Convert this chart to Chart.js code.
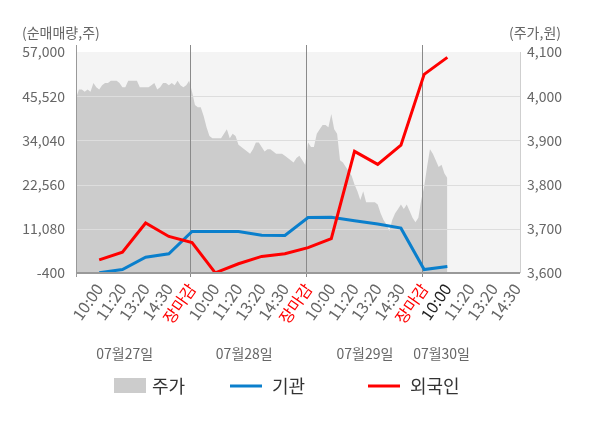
<!DOCTYPE html>
<html>
<head>
<meta charset="utf-8">
<script src="https://cdn.jsdelivr.net/npm/chart.js@4.4.1/dist/chart.umd.min.js"></script>
<style>
  html, body { margin: 0; padding: 0; background: #fff; }
</style>
</head>
<body>
<canvas id="c" width="600" height="428"></canvas>
<script>
// categories
const sessions = ['10:00', '11:20', '13:20', '14:30', '장마감'];
const dates = ['07월27일', '07월28일', '07월29일', '07월30일'];
const datePos = [2.1, 7.25, 12.45, 15.75];
const legendLabels = ['주가', '기관', '외국인'];

// net buying (shares), one value per session point
const foreign = [3000, 5000, 12600, 9100, 7500, -350, 2000, 3900, 4600, 6200, 8500, 31200, 27800, 32800, 51200, 55600];
const institution = [-300, 500, 3700, 4600, 10400, 10400, 10350, 9400, 9350, 14000, 14050, 13150, 12350, 11250, 500, 1300];

// intraday price (won), 40 samples per full day
const priceDay1 = [3995, 4015, 4015, 4010, 4015, 4010, 4030, 4020, 4015, 4025, 4030, 4030, 4035, 4035, 4035, 4030, 4020, 4020, 4035, 4035,
                   4035, 4035, 4020, 4020, 4020, 4020, 4025, 4030, 4015, 4020, 4030, 4030, 4025, 4030, 4025, 4035, 4025, 4020, 4025, 4035];
const priceDay2 = [4010, 3980, 3975, 3975, 3955, 3930, 3910, 3905, 3905, 3905, 3905, 3915, 3925, 3905, 3915, 3910, 3890, 3885, 3880, 3875,
                   3870, 3880, 3895, 3895, 3885, 3875, 3880, 3880, 3875, 3870, 3870, 3870, 3865, 3860, 3855, 3850, 3860, 3865, 3855, 3845];
const priceDay3 = [3895, 3885, 3885, 3915, 3925, 3935, 3935, 3930, 3960, 3925, 3915, 3855, 3850, 3840, 3830, 3820, 3800, 3785, 3765, 3785,
                   3760, 3760, 3760, 3760, 3755, 3735, 3720, 3710, 3695, 3720, 3735, 3745, 3755, 3745, 3755, 3740, 3725, 3715, 3725, 3765];
const priceDay4 = [3795, 3840, 3880, 3870, 3855, 3840, 3845, 3825, 3815];

const leftTicks = [-400, 11080, 22560, 34040, 45520, 57000];
const rightTicks = [3600, 3700, 3800, 3900, 4000, 4100];

const FONT = "'Noto Sans CJK KR', 'Noto Sans', sans-serif";
const STEP = 5 / 40;
const priceDays = [priceDay1, priceDay2, priceDay3, priceDay4];
const pricePoints = priceDays.flatMap((arr, d) => arr.map((p, i) => ({ x: d * 5 + i * STEP, y: p })));
const toPoints = arr => arr.map((v, i) => ({ x: i + 1, y: v }));

const decor = {
  id: 'decor',
  beforeDraw(chart) {
    const { ctx, chartArea: a } = chart;
    ctx.save();
    ctx.fillStyle = '#f4f4f4';
    ctx.fillRect(a.left, a.top, a.right - a.left, a.bottom - a.top);
    ctx.restore();
  },
  afterDatasetDraw(chart, args) {
    if (args.index !== 0) return;
    const { ctx, chartArea: a, scales } = chart;
    ctx.save();
    ctx.strokeStyle = '#dddddd';
    ctx.lineWidth = 1;
    leftTicks.slice(1, -1).forEach(v => {
      const y = Math.round(scales.y.getPixelForValue(v)) + 0.5;
      ctx.beginPath(); ctx.moveTo(a.left, y); ctx.lineTo(a.right, y); ctx.stroke();
    });
    ctx.strokeStyle = '#8a8a8a';
    [5, 10, 15].forEach(v => {
      const x = Math.round(scales.x.getPixelForValue(v)) - 1.5;
      ctx.beginPath(); ctx.moveTo(x, a.top - 7); ctx.lineTo(x, a.bottom + 4); ctx.stroke();
    });
    ctx.restore();
  },
  afterDraw(chart) {
    const { ctx, chartArea: a, scales } = chart;
    ctx.save();
    // axis lines
    ctx.strokeStyle = '#999';
    ctx.lineWidth = 1;
    ctx.beginPath(); ctx.moveTo(a.left + 0.5, a.top - 7); ctx.lineTo(a.left + 0.5, a.bottom + 4); ctx.stroke();
    ctx.strokeStyle = '#cfcfcf';
    ctx.beginPath(); ctx.moveTo(a.right + 0.5, a.top); ctx.lineTo(a.right + 0.5, a.bottom); ctx.stroke();
    ctx.strokeStyle = '#999';
    ctx.lineWidth = 2;
    ctx.beginPath(); ctx.moveTo(a.left, a.bottom); ctx.lineTo(a.right, a.bottom); ctx.stroke();

    // axis titles
    ctx.fillStyle = '#666';
    ctx.font = '14px ' + FONT;
    ctx.textBaseline = 'middle';
    ctx.textAlign = 'left';
    ctx.fillText('(순매매량,주)', 22, 33);
    ctx.fillText('(주가,원)', 509, 33);

    // dates
    ctx.textAlign = 'center';
    dates.forEach((d, i) => {
      ctx.fillText(d, scales.x.getPixelForValue(datePos[i]), 354);
    });

    // legend
    ctx.font = '18px ' + FONT;
    ctx.textAlign = 'left';
    ctx.fillStyle = '#cccccc';
    ctx.fillRect(114, 378, 32, 15);
    ctx.fillStyle = '#333';
    ctx.fillText(legendLabels[0], 152, 386);
    ctx.lineWidth = 3;
    ctx.strokeStyle = '#0a7fcc';
    ctx.beginPath(); ctx.moveTo(230, 386); ctx.lineTo(262, 386); ctx.stroke();
    ctx.fillText(legendLabels[1], 272, 386);
    ctx.strokeStyle = '#ff0000';
    ctx.beginPath(); ctx.moveTo(368, 386); ctx.lineTo(400, 386); ctx.stroke();
    ctx.fillText(legendLabels[2], 410, 386);
    ctx.restore();
  }
};

new Chart(document.getElementById('c'), {
  type: 'line',
  data: {
    datasets: [
      {
        label: legendLabels[0],
        data: pricePoints,
        yAxisID: 'y2',
        fill: 'start',
        backgroundColor: '#cccccc',
        borderWidth: 0,
        pointRadius: 0,
        order: 3
      },
      {
        label: legendLabels[1],
        data: toPoints(institution),
        yAxisID: 'y',
        borderColor: '#0a7fcc',
        borderWidth: 3,
        pointRadius: 0,
        fill: false,
        order: 1
      },
      {
        label: legendLabels[2],
        data: toPoints(foreign),
        yAxisID: 'y',
        borderColor: '#ff0000',
        borderWidth: 3,
        pointRadius: 0,
        fill: false,
        order: 0
      }
    ]
  },
  options: {
    responsive: false,
    animation: false,
    layout: { padding: { top: 52, left: 0, right: 0, bottom: 0 } },
    plugins: {
      legend: { display: false },
      tooltip: { enabled: false }
    },
    scales: {
      x: {
        type: 'linear',
        min: 0,
        max: 19.13,
        afterBuildTicks: s => { s.ticks = Array.from({ length: 19 }, (_, i) => ({ value: i + 1 })); },
        afterFit: s => { s.height = 155; },
        grid: { display: false, drawTicks: false },
        border: { display: false },
        ticks: {
          autoSkip: false,
          minRotation: 55,
          maxRotation: 55,
          padding: 7,
          font: { family: FONT, size: 16 },
          color: c => {
            const v = c.tick.value;
            if (v % 5 === 0) return '#ff0000';
            if (v === 16) return '#222';
            return '#666';
          },
          callback: v => sessions[(v - 1) % 5]
        }
      },
      y: {
        position: 'left',
        min: -400,
        max: 57000,
        afterBuildTicks: s => { s.ticks = leftTicks.map(v => ({ value: v })); },
        afterFit: s => { s.width = 76; },
        grid: { display: false, drawTicks: false },
        border: { display: false },
        ticks: { color: '#666', padding: 11, font: { family: FONT, size: 14 } }
      },
      y2: {
        position: 'right',
        min: 3600,
        max: 4100,
        afterBuildTicks: s => { s.ticks = rightTicks.map(v => ({ value: v })); },
        afterFit: s => { s.width = 80; },
        grid: { display: false, drawTicks: false },
        border: { display: false },
        ticks: { color: '#666', padding: 7, font: { family: FONT, size: 14 } }
      }
    }
  },
  plugins: [decor]
});
</script>
</body>
</html>
